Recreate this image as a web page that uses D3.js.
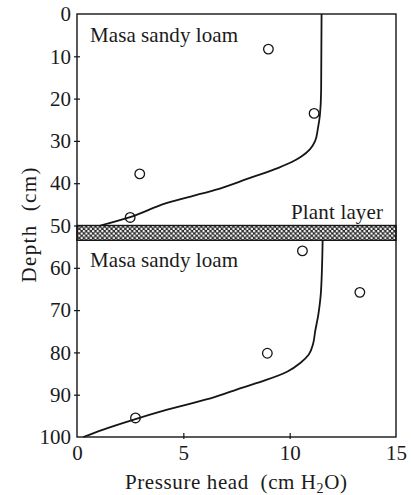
<!DOCTYPE html>
<html>
<head>
<meta charset="utf-8">
<script src="https://cdn.jsdelivr.net/npm/d3@7/dist/d3.min.js"></script>
<style>
  html, body { margin: 0; padding: 0; background: #fff; }
  svg text { font-family: "Liberation Serif", "Times New Roman", serif; fill: #1a1a1a; white-space: pre; }
</style>
</head>
<body>
<svg id="chart" width="411" height="495"></svg>
<script>
// ---- data ----
const xTicks = [0, 5, 10, 15];
const yTicks = [0, 10, 20, 30, 40, 50, 60, 70, 80, 90, 100];

// upper layer: measured points
const upperObsPressure = [9.0, 11.15, 2.95, 2.5];
const upperObsDepth    = [8.3, 23.5, 37.8, 48.1];
// upper layer: computed curve
const upperCurvePressure = [11.5, 11.48, 11.42, 11.33, 11.2, 10.95, 10.55, 10.1, 9.5, 8.0, 6.5, 4.2, 2.5, 1.1];
const upperCurveDepth    = [0, 18, 24, 27, 30, 32, 33.7, 35, 36.3, 39, 41.6, 44.7, 48, 50];

// lower layer: measured points
const lowerObsPressure = [10.6, 13.3, 8.95, 2.75];
const lowerObsDepth    = [56.0, 65.8, 80.2, 95.5];
// lower layer: computed curve
const lowerCurvePressure = [11.55, 11.52, 11.45, 11.35, 11.2, 11.1, 10.9, 10.5, 9.9, 8.9, 7.6, 6.5, 4.2, 2.6, 1.2, 0.3];
const lowerCurveDepth    = [53.5, 60, 67, 71, 75, 78, 80.5, 82.5, 84.5, 86.5, 88.6, 90.5, 93.6, 96, 98.3, 100];

// plant layer (depth range)
const plantLayer = [50, 53.5];

const layerLabels = ["Masa sandy loam", "Masa sandy loam"];
const plantLabel = "Plant layer";

// ---- layout ----
const margin = {left: 77, right: 15, top: 14, bottom: 58};
const W = 411, H = 495;
const svg = d3.select("#chart");

const x = d3.scaleLinear().domain([0, 15]).range([margin.left, W - margin.right]);
const y = d3.scaleLinear().domain([0, 100]).range([margin.top, H - margin.bottom]);

const ink = "#151515";
const serif = '"Liberation Serif", "Times New Roman", serif';

// hatch pattern for plant layer
const defs = svg.append("defs");
const pat = defs.append("pattern")
  .attr("id", "dots").attr("patternUnits", "userSpaceOnUse")
  .attr("width", 4.6).attr("height", 4.6);
pat.append("rect").attr("width", 4.6).attr("height", 4.6).attr("fill", "#2a2a2a");
pat.append("circle").attr("cx", 1.15).attr("cy", 1.15).attr("r", 1.2).attr("fill", "#fff");
pat.append("circle").attr("cx", 3.45).attr("cy", 3.45).attr("r", 1.2).attr("fill", "#fff");

// plant layer band
svg.append("rect")
  .attr("x", x(0)).attr("y", y(plantLayer[0]))
  .attr("width", x(15) - x(0)).attr("height", y(plantLayer[1]) - y(plantLayer[0]))
  .attr("fill", "url(#dots)")
  .attr("stroke", ink).attr("stroke-width", 1.4);

// frame
svg.append("rect")
  .attr("x", x(0)).attr("y", y(0))
  .attr("width", x(15) - x(0)).attr("height", y(100) - y(0))
  .attr("fill", "none").attr("stroke", ink).attr("stroke-width", 1.4);

// axes
const yAxis = svg.append("g").attr("transform", `translate(${x(0)},0)`)
  .call(d3.axisLeft(y).tickValues(yTicks).tickSize(3).tickPadding(3).tickSizeOuter(0))
  .attr("font-family", serif).attr("font-size", 21);
yAxis.select(".domain").remove();
yAxis.selectAll(".tick line").attr("x1", 3).attr("x2", -3).attr("stroke", ink).attr("stroke-width", 1.2);
yAxis.selectAll(".tick text").attr("fill", "#1a1a1a");

const xAxis = svg.append("g").attr("transform", `translate(0,${y(100)})`)
  .call(d3.axisBottom(x).tickValues(xTicks).tickSize(3).tickPadding(5).tickSizeOuter(0))
  .attr("font-family", serif).attr("font-size", 21);
xAxis.select(".domain").remove();
xAxis.selectAll(".tick line").attr("y1", -4).attr("y2", 2).attr("stroke", ink).attr("stroke-width", 1.2);
xAxis.selectAll(".tick text").attr("fill", "#1a1a1a");
// corners are covered by the frame
xAxis.selectAll(".tick").filter(d => d === 0 || d === 15).select("line").remove();
yAxis.selectAll(".tick").filter(d => d === 0 || d === 100).select("line").remove();

// curves
const line = d3.line().x(d => x(d[0])).y(d => y(d[1])).curve(d3.curveMonotoneY);
const upperCurve = upperCurvePressure.map((p, i) => [p, upperCurveDepth[i]]);
const lowerCurve = lowerCurvePressure.map((p, i) => [p, lowerCurveDepth[i]]);
svg.append("path").attr("d", line(upperCurve)).attr("fill", "none").attr("stroke", ink).attr("stroke-width", 1.8);
svg.append("path").attr("d", line(lowerCurve)).attr("fill", "none").attr("stroke", ink).attr("stroke-width", 1.8);

// observations
const obs = upperObsPressure.map((p, i) => [p, upperObsDepth[i]])
  .concat(lowerObsPressure.map((p, i) => [p, lowerObsDepth[i]]));
svg.selectAll("circle.obs").data(obs).enter().append("circle")
  .attr("class", "obs")
  .attr("cx", d => x(d[0])).attr("cy", d => y(d[1])).attr("r", 4.8)
  .attr("fill", "none").attr("stroke", ink).attr("stroke-width", 1.3);

// labels
svg.append("text").attr("x", 90).attr("y", 42).style("font-size", "21px")
  .attr("textLength", 148).attr("lengthAdjust", "spacing").text(layerLabels[0]);
svg.append("text").attr("x", 90).attr("y", 267).style("font-size", "21px")
  .attr("textLength", 148).attr("lengthAdjust", "spacing").text(layerLabels[1]);
svg.append("text").attr("x", 291).attr("y", 219).style("font-size", "21px")
  .attr("textLength", 92).attr("lengthAdjust", "spacing").text(plantLabel);

// axis titles
svg.append("text")
  .attr("transform", "translate(36,225) rotate(-90)")
  .attr("text-anchor", "middle").style("font-size", "21px")
  .attr("textLength", 115).attr("lengthAdjust", "spacing")
  .text("Depth  (cm)");

const xt = svg.append("text").attr("x", 125).attr("y", 489).style("font-size", "21px")
  .style("letter-spacing", "0.6px");
xt.append("tspan").text("Pressure head  (cm H");
xt.append("tspan").attr("dy", 4).style("font-size", "14px").text("2");
xt.append("tspan").attr("dy", -4).text("O)");
</script>
</body>
</html>
